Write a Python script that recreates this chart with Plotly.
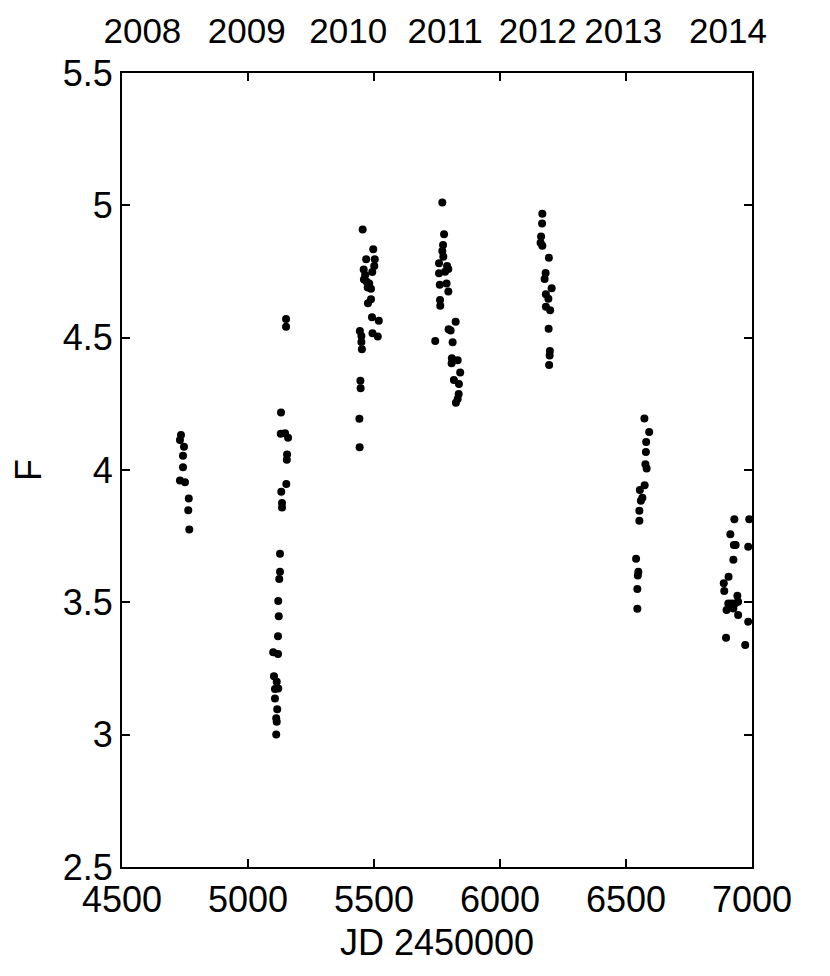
import plotly.graph_objects as go

# JD - 2450000 and flux
jd_2008 = [4734, 4730, 4746, 4742, 4742, 4730, 4750, 4765, 4763, 4767]
f_2008 = [4.132, 4.113, 4.088, 4.054, 4.010, 3.960, 3.954, 3.892, 3.848, 3.775]

jd_2009 = [5151, 5151, 5131, 5130, 5147, 5159, 5155, 5154, 5152, 5132, 5135, 5135,
           5127, 5127, 5124, 5120, 5122, 5119, 5100, 5119, 5103, 5114, 5107, 5120,
           5107, 5116, 5112, 5114, 5112]
f_2009 = [4.571, 4.541, 4.217, 4.137, 4.139, 4.122, 4.059, 4.039, 3.947, 3.918, 3.875, 3.858,
          3.684, 3.616, 3.588, 3.505, 3.447, 3.372, 3.311, 3.305, 3.221, 3.200, 3.173, 3.174,
          3.137, 3.096, 3.062, 3.049, 3.001]

jd_2010 = [5455, 5497, 5503, 5469, 5501, 5459, 5493, 5465, 5460, 5471, 5481, 5475, 5488,
           5488, 5476, 5492, 5519, 5444, 5494, 5515, 5450, 5450, 5452, 5446, 5447, 5442, 5443]
f_2010 = [4.909, 4.834, 4.796, 4.796, 4.771, 4.758, 4.748, 4.737, 4.720, 4.711, 4.705, 4.690, 4.685,
          4.645, 4.630, 4.577, 4.564, 4.525, 4.517, 4.504, 4.506, 4.484, 4.456, 4.337, 4.309, 4.194, 4.086]

jd_2011 = [5771, 5778, 5774, 5771, 5775, 5758, 5790, 5795, 5758, 5782, 5788, 5761, 5795, 5762,
           5763, 5824, 5796, 5804, 5743, 5812, 5809, 5832, 5808, 5842, 5817, 5837, 5836, 5832, 5825]
f_2011 = [5.011, 4.891, 4.850, 4.827, 4.806, 4.781, 4.771, 4.759, 4.743, 4.749, 4.705, 4.700, 4.674, 4.642,
          4.621, 4.560, 4.532, 4.527, 4.487, 4.483, 4.422, 4.415, 4.403, 4.368, 4.340, 4.325, 4.287, 4.268, 4.254]

jd_2012 = [6168, 6167, 6163, 6161, 6168, 6194, 6181, 6177, 6205, 6182, 6192, 6182, 6199,
           6193, 6198, 6197, 6195]
f_2012 = [4.968, 4.931, 4.882, 4.859, 4.847, 4.802, 4.744, 4.722, 4.687, 4.664, 4.647, 4.617, 4.604,
          4.534, 4.450, 4.433, 4.397]

jd_2013 = [6573, 6592, 6580, 6579, 6577, 6582, 6574, 6555, 6565, 6559, 6553, 6553, 6540,
           6549, 6547, 6545, 6545]
f_2013 = [4.195, 4.144, 4.106, 4.068, 4.022, 4.006, 3.942, 3.924, 3.895, 3.884, 3.846, 3.808, 3.665,
          3.616, 3.601, 3.550, 3.476]

jd_2014 = [6930, 6989, 6914, 6935, 6928, 6985, 6926, 6907, 6888, 6890, 6942, 6906, 6919,
           6932, 6945, 6899, 6926, 6945, 6985, 6897, 6973]
f_2014 = [3.814, 3.814, 3.757, 3.717, 3.717, 3.710, 3.661, 3.597, 3.572, 3.543, 3.525, 3.496, 3.496,
          3.496, 3.502, 3.471, 3.477, 3.452, 3.427, 3.366, 3.339]

year_pos = [4581, 4995, 5398, 5782, 6150, 6489, 6905]
year_text = ["2008", "2009", "2010", "2011", "2012", "2013", "2014"]

jd = jd_2008 + jd_2009 + jd_2010 + jd_2011 + jd_2012 + jd_2013 + jd_2014
flux = f_2008 + f_2009 + f_2010 + f_2011 + f_2012 + f_2013 + f_2014

font_name = "Liberation Sans, Arial, sans-serif"
fsize = 36

fig = go.Figure()
fig.add_trace(go.Scatter(x=jd, y=flux, mode="markers",
                         marker=dict(color="black", size=8), showlegend=False))
# invisible copy so the top (year) axis gets drawn
fig.add_trace(go.Scatter(x=jd, y=flux, mode="markers", xaxis="x2",
                         marker=dict(color="rgba(0,0,0,0)", size=1),
                         hoverinfo="skip", showlegend=False))

axis_common = dict(showgrid=False, zeroline=False, showline=True, linecolor="black",
                   linewidth=2, ticks="inside", ticklen=8, tickwidth=1.5, tickcolor="black",
                   mirror="ticks", automargin=False, tickfont=dict(size=fsize, color="black"))

# the page body adds an 8px offset, so margins are trimmed by that much
fig.update_layout(
    width=830, height=976,
    margin=dict(l=114, r=86, t=65, b=117, autoexpand=False),
    paper_bgcolor="white", plot_bgcolor="white",
    font=dict(family=font_name, color="black"),
    xaxis=dict(range=[4500, 7000], tickvals=[4500, 5000, 5500, 6000, 6500, 7000],
               title=dict(text="JD 2450000", font=dict(size=fsize), standoff=11),
               **axis_common),
    yaxis=dict(range=[2.5, 5.5], tickvals=[2.5, 3, 3.5, 4, 4.5, 5, 5.5],
               ticktext=["2.5", "3", "3.5", "4", "4.5", "5", "5.5"],
               title=dict(text="F", font=dict(size=fsize), standoff=27),
               **axis_common),
    xaxis2=dict(range=[4500, 7000], overlaying="x", side="top", showgrid=False,
                zeroline=False, showline=False, ticks="", tickvals=year_pos,
                ticktext=year_text, tickfont=dict(size=35, color="black"),
                automargin=False, ticklabelstandoff=22),
)

fig.write_html("out.html")
